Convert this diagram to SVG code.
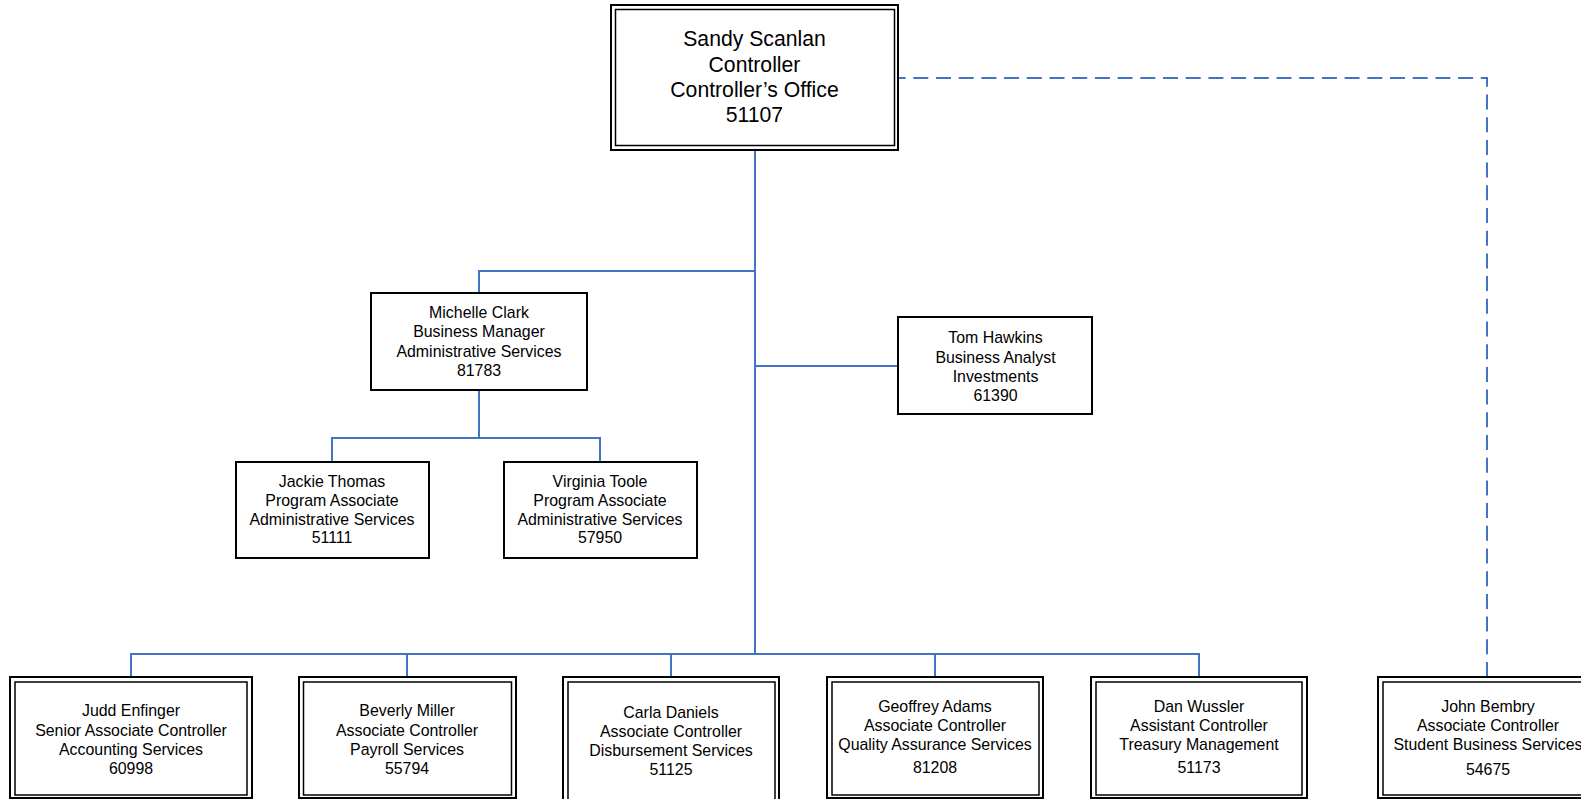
<svg xmlns="http://www.w3.org/2000/svg" width="1581" height="799" viewBox="0 0 1581 799">
<style>
  .bg{fill:#ffffff}
  .box{fill:#ffffff;stroke:#000000;stroke-width:2}
  .inner{fill:none;stroke:#000000;stroke-width:1.5}
  .ln{fill:none;stroke:#4472C4;stroke-width:2}
  .dash{fill:none;stroke:#4472C4;stroke-width:2;stroke-dasharray:15 7.7}
  text{font-family:"Liberation Sans",Arial,sans-serif;fill:#000000;text-anchor:middle}
  .t{font-size:15.9px}
  .big{font-size:21.2px}
</style>
<rect class="bg" x="0" y="0" width="1581" height="799"/>
<g id="connectors">
  <path class="ln" d="M755,150 V654"/>
  <path class="ln" d="M755,271 H479 V293"/>
  <path class="ln" d="M755,366 H898"/>
  <path class="ln" d="M479,390 V438 M332,462 V438 H600 V462"/>
  <path class="ln" d="M131,677 V654 H1199 V677 M407,654 V677 M671,654 V677 M935,654 V677"/>
  <path class="dash" d="M1487,677 V78 H898"/>
</g>
<g id="sandy">
  <rect class="box" x="611" y="5" width="287" height="145"/>
  <rect class="inner" x="615.5" y="9.5" width="279" height="136"/>
  <text class="big" x="754.5" y="46">Sandy Scanlan</text>
  <text class="big" x="754.5" y="71.5">Controller</text>
  <text class="big" x="754.5" y="96.5">Controller’s Office</text>
  <text class="big" x="754.5" y="121.5">51107</text>
</g>
<g id="michelle">
  <rect class="box" x="371" y="293" width="216" height="97"/>
  <text class="t" x="479" y="318.3">Michelle Clark</text>
  <text class="t" x="479" y="337.3">Business Manager</text>
  <text class="t" x="479" y="356.7">Administrative Services</text>
  <text class="t" x="479" y="375.7">81783</text>
</g>
<g id="tom">
  <rect class="box" x="898" y="317" width="194" height="97"/>
  <text class="t" x="995.5" y="343.3">Tom Hawkins</text>
  <text class="t" x="995.5" y="363.3">Business Analyst</text>
  <text class="t" x="995.5" y="381.7">Investments</text>
  <text class="t" x="995.5" y="400.7">61390</text>
</g>
<g id="jackie">
  <rect class="box" x="236" y="462" width="193" height="96"/>
  <text class="t" x="332" y="486.7">Jackie Thomas</text>
  <text class="t" x="332" y="505.7">Program Associate</text>
  <text class="t" x="332" y="525">Administrative Services</text>
  <text class="t" x="332" y="543.3">51111</text>
</g>
<g id="virginia">
  <rect class="box" x="504" y="462" width="193" height="96"/>
  <text class="t" x="600" y="486.7">Virginia Toole</text>
  <text class="t" x="600" y="505.7">Program Associate</text>
  <text class="t" x="600" y="525">Administrative Services</text>
  <text class="t" x="600" y="543.3">57950</text>
</g>
<g id="judd">
  <rect class="box" x="10" y="677" width="242" height="121"/>
  <rect class="inner" x="15" y="682" width="232" height="113"/>
  <text class="t" x="131" y="716">Judd Enfinger</text>
  <text class="t" x="131" y="735.5">Senior Associate Controller</text>
  <text class="t" x="131" y="755">Accounting Services</text>
  <text class="t" x="131" y="774">60998</text>
</g>
<g id="beverly">
  <rect class="box" x="299" y="677" width="217" height="121"/>
  <rect class="inner" x="303.5" y="682" width="208" height="113"/>
  <text class="t" x="407" y="716">Beverly Miller</text>
  <text class="t" x="407" y="735.5">Associate Controller</text>
  <text class="t" x="407" y="755">Payroll Services</text>
  <text class="t" x="407" y="774">55794</text>
</g>
<g id="carla">
  <rect class="box" x="563" y="677" width="216" height="124"/>
  <rect class="inner" x="568" y="682" width="207" height="120"/>
  <text class="t" x="671" y="718.3">Carla Daniels</text>
  <text class="t" x="671" y="736.7">Associate Controller</text>
  <text class="t" x="671" y="755.7">Disbursement Services</text>
  <text class="t" x="671" y="775">51125</text>
</g>
<g id="geoffrey">
  <rect class="box" x="827" y="677" width="216" height="121"/>
  <rect class="inner" x="832" y="682" width="207" height="113"/>
  <text class="t" x="935" y="711.7">Geoffrey Adams</text>
  <text class="t" x="935" y="730.7">Associate Controller</text>
  <text class="t" x="935" y="750">Quality Assurance Services</text>
  <text class="t" x="935" y="773.3">81208</text>
</g>
<g id="dan">
  <rect class="box" x="1091" y="677" width="216" height="121"/>
  <rect class="inner" x="1096" y="682" width="206" height="113"/>
  <text class="t" x="1199" y="711.7">Dan Wussler</text>
  <text class="t" x="1199" y="730.7">Assistant Controller</text>
  <text class="t" x="1199" y="750">Treasury Management</text>
  <text class="t" x="1199" y="773">51173</text>
</g>
<g id="john">
  <rect class="box" x="1378" y="677" width="220" height="121"/>
  <rect class="inner" x="1383" y="682" width="210" height="113"/>
  <text class="t" x="1488" y="711.7">John Bembry</text>
  <text class="t" x="1488" y="730.7">Associate Controller</text>
  <text class="t" x="1488" y="750">Student Business Services</text>
  <text class="t" x="1488" y="775">54675</text>
</g>
</svg>
